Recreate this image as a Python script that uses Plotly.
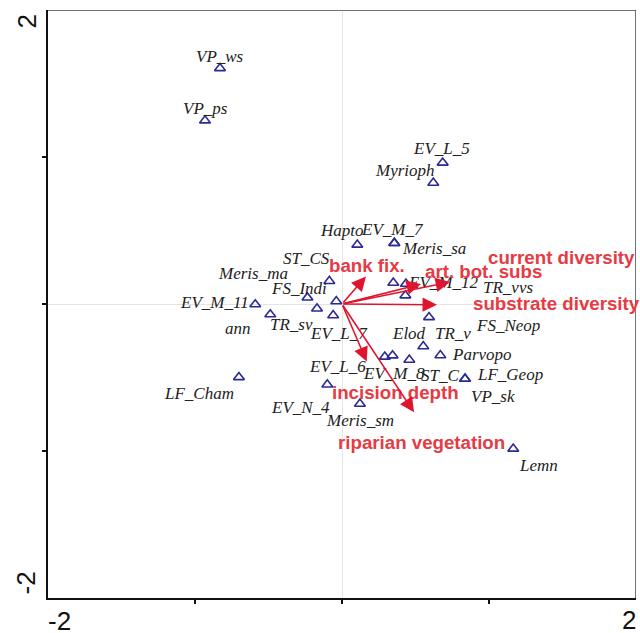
import plotly.graph_objects as go

# ---------------- data ----------------
species = ["VP_ws", "VP_ps", "EV_L_5", "Myrioph", "Hapto", "EV_M_7", "Meris_sa",
           "ST_CS", "FS_Indi", "Meris_ma", "EV_L_7", "TR_sv", "EV_M_11", "ann",
           "EV_M_12", "TR_vvs", "FS_Neop", "TR_v", "Elod", "Parvopo", "EV_L_6",
           "EV_M_8", "ST_C", "LF_Geop", "VP_sk", "Meris_sm", "EV_N_4", "Lemn", "LF_Cham"]
sp_x = [-0.830, -0.932, 0.685, 0.621, 0.104, 0.356, 0.356,
        -0.086, -0.235, -0.170, -0.039, -0.060, -0.590, -0.488,
        0.349, 0.435, 0.431, 0.592, 0.553, 0.669, 0.291,
        0.344, 0.458, 0.837, 0.837, 0.122, -0.100, 1.165, -0.701]
sp_y = [1.604, 1.248, 0.961, 0.824, 0.403, 0.414, 0.414,
        0.156, 0.043, -0.031, 0.018, -0.077, -0.003, -0.071,
        0.144, 0.137, 0.058, -0.090, -0.288, -0.349, -0.359,
        -0.350, -0.380, -0.509, -0.509, -0.679, -0.548, -0.985, -0.498]

env_vars = ["bank fix.", "art. bot. subs", "current diversity", "substrate diversity",
            "incision depth", "riparian vegetation"]
env_x = [0.163, 0.537, 0.735, 0.646, 0.168, 0.490]
env_y = [0.187, 0.136, 0.150, -0.005, -0.391, -0.736]

axis_min, axis_max = -2, 2
tick_vals = [-1, 0, 1]

# ---------------- styles (pixel offsets of labels) ----------------
sp_label_off = [(0, -11.7), (0, -12), (-1, -14.3), (-28.3, -12.3), (-15.6, -14.6), (-1.8, -13.2), (39.7, 5.3),
                (-22.6, -22.2), (-8.5, -9.2), (-64.5, -35), (2.8, 32.2), (-41.2, 9.2), (-40.3, -2), (-31.8, 14),
                (49.7, -0.3), (102, 3.7), (102.2, 30), (23.5, 16.3), (-13.8, -12.8), (41.7, -0.8), (-47.3, 9.7),
                (1, 18), (30.7, 15.7), (44.5, -4.3), (27.5, 17.7), (0.5, 16.7), (-27.3, 23), (25.2, 16.7), (-40, 16.3)]
env_label_off = [(1.5, -11.5), (62.5, -12.5), (111.5, -24.5), (119.5, -1.3), (28.3, 31.5), (7.5, 30.8)]

TRI_COLOR = "#2a2a96"
ARROW_COLOR = "#e0142e"
ENV_TEXT_COLOR = "#e63a44"

fig = go.Figure()

fig.add_trace(go.Scatter(
    x=sp_x, y=sp_y, mode="markers",
    marker=dict(symbol="triangle-up-open", size=9.5, color=TRI_COLOR, line=dict(width=1.6, color=TRI_COLOR)),
    hoverinfo="text", text=species, showlegend=False,
))

annotations = []
for name, x, y, (dx, dy) in zip(species, sp_x, sp_y, sp_label_off):
    annotations.append(dict(
        x=x, y=y, xref="x", yref="y", text=name, showarrow=False,
        xshift=dx, yshift=-dy, xanchor="center", yanchor="middle",
        font=dict(family="Liberation Serif, Times New Roman, serif", size=17, color="#222222",
                  style="italic"),
    ))

for name, x, y, (dx, dy) in zip(env_vars, env_x, env_y, env_label_off):
    annotations.append(dict(
        x=x, y=y, xref="x", yref="y", ax=0, ay=0, axref="x", ayref="y",
        text="", showarrow=True, arrowhead=2, arrowsize=1.8, arrowwidth=1.6,
        arrowcolor=ARROW_COLOR, standoff=0,
    ))
    annotations.append(dict(
        x=x, y=y, xref="x", yref="y", text=name, showarrow=False,
        xshift=dx, yshift=-dy, xanchor="center", yanchor="middle",
        font=dict(family="Liberation Sans, Arial, sans-serif", size=18.7, color=ENV_TEXT_COLOR, weight="bold"),
    ))

tick_font = dict(family="Liberation Sans, Arial, sans-serif", size=26, color="#111111")
annotations += [
    dict(x=axis_min, y=0, xref="x", yref="paper", text="-2", showarrow=False,
         xanchor="left", yanchor="middle", yshift=-23, xshift=-2, font=tick_font),
    dict(x=axis_max, y=0, xref="x", yref="paper", text="2", showarrow=False,
         xanchor="right", yanchor="middle", yshift=-22, xshift=2, font=tick_font),
    dict(x=0, y=axis_max, xref="paper", yref="y", text="2", showarrow=False, textangle=-90,
         xanchor="center", yanchor="middle", xshift=-22, yshift=-11.5, font=tick_font),
    dict(x=0, y=axis_min, xref="paper", yref="y", text="-2", showarrow=False, textangle=-90,
         xanchor="center", yanchor="middle", xshift=-23, yshift=14.5, font=tick_font),
]

fig.update_layout(
    width=640, height=633,
    margin=dict(l=48, r=4, t=10, b=35),
    paper_bgcolor="white", plot_bgcolor="white",
    annotations=annotations,
    shapes=[
        dict(type="line", xref="x", yref="y", x0=axis_min, x1=axis_max, y0=axis_max, y1=axis_max,
             line=dict(color="#444444", width=1.5)),
        dict(type="line", xref="x", yref="y", x0=axis_max, x1=axis_max, y0=axis_min, y1=axis_max,
             line=dict(color="#444444", width=1.5)),
    ],
    xaxis=dict(range=[axis_min, axis_max], showgrid=False, zeroline=True, zerolinecolor="#e4e4e4",
               zerolinewidth=1, showline=True, linecolor="#111111", linewidth=2,
               ticks="outside", tickvals=tick_vals, ticklen=4, tickwidth=1.5, tickcolor="#111111",
               showticklabels=False),
    yaxis=dict(range=[axis_min, axis_max], showgrid=False, zeroline=True, zerolinecolor="#e4e4e4",
               zerolinewidth=1, showline=True, linecolor="#111111", linewidth=2,
               ticks="outside", tickvals=tick_vals, ticklen=4, tickwidth=1.5, tickcolor="#111111",
               showticklabels=False),
)

fig.write_html("out.html", config={"displayModeBar": False},
               post_script="document.body.style.margin='0';document.body.style.overflow='hidden';")
